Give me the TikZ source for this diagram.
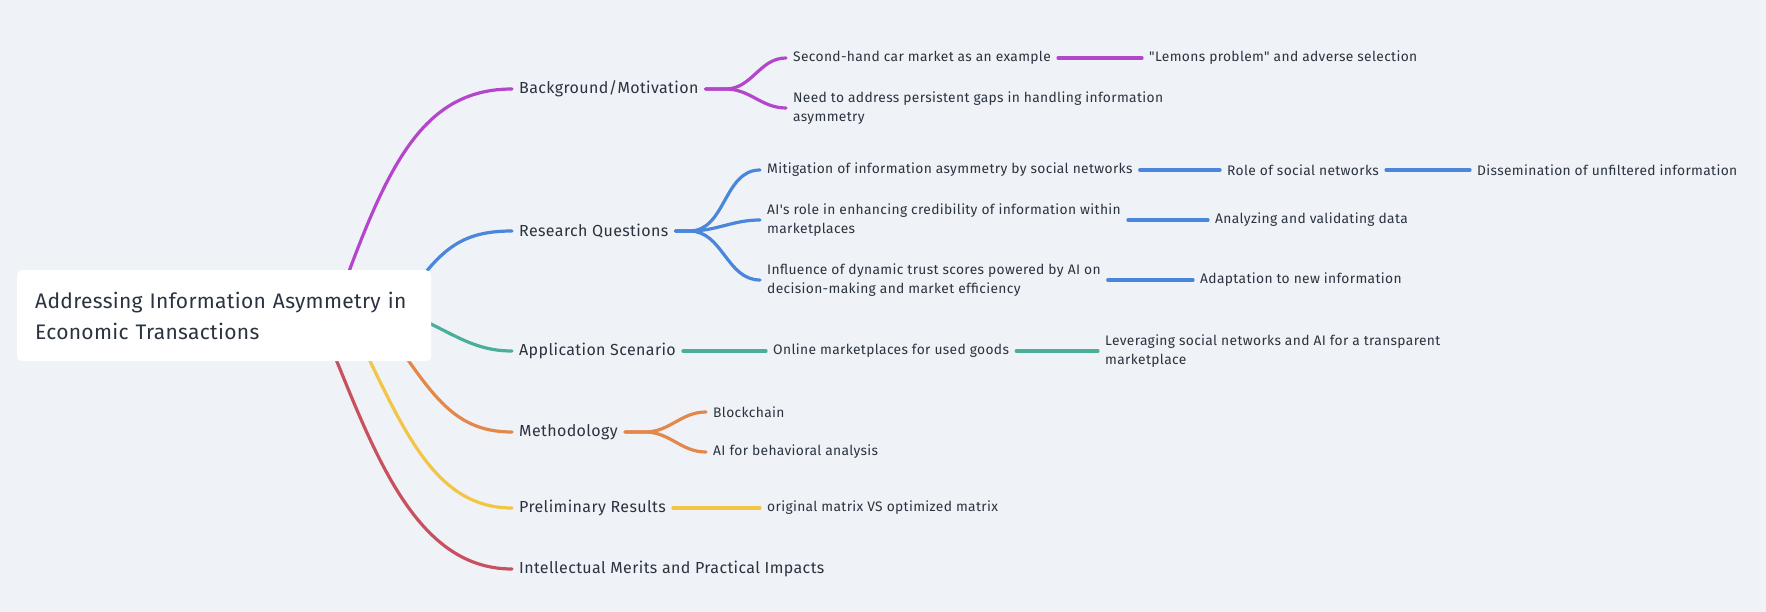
\documentclass[tikz,border=0pt]{standalone}
\usepackage{fontspec}
\setmainfont{Fira Sans}
\usetikzlibrary{calc}
\pgfdeclarelayer{bottom}
\pgfdeclarelayer{background}
\pgfsetlayers{bottom,background,main}

\definecolor{pagebg}{HTML}{EFF3F7}
\definecolor{ink}{HTML}{2B3340}
\definecolor{cpurple}{HTML}{B446CC}
\definecolor{cblue}{HTML}{4A86DA}
\definecolor{cteal}{HTML}{4AAE9B}
\definecolor{corange}{HTML}{E3884A}
\definecolor{cyellow}{HTML}{F2C545}
\definecolor{cred}{HTML}{C9505E}

\newfontfamily\rootfont[LetterSpace=1.5]{Fira Sans}
\newfontfamily\topicfont[LetterSpace=2.4]{Fira Sans}
\newfontfamily\leaffont[LetterSpace=2.5]{Fira Sans}

\tikzset{
  rootbox/.style={fill=white, rounded corners=5pt, anchor=north west,
    text width=378pt, inner xsep=18pt, inner ysep=0pt, minimum height=91pt,
    align=left, text=ink, font=\rootfont\fontsize{21}{31}\selectfont},
  topic/.style={anchor=west, inner xsep=7pt, inner ysep=2pt, text=ink,
    font=\topicfont\fontsize{16}{19}\selectfont},
  leaf/.style={anchor=west, inner xsep=7pt, inner ysep=2pt, text=ink,
    align=left, font=\leaffont\fontsize{13.8}{19.5}\selectfont},
  branch/.style={line width=3.2pt, line cap=round},
  link/.style={line width=3.2pt, line cap=round},
}

\begin{document}
\begin{tikzpicture}[x=1pt, y=-1pt]
\begin{pgfonlayer}{bottom}
  \fill[pagebg] (0,0) rectangle (1766,612);
\end{pgfonlayer}
\useasboundingbox (0,0) rectangle (1766,612);

% central topic
\node[rootbox] (root) at (17,270) {Addressing Information Asymmetry in\\Economic Transactions};

% main branches
\node[topic] (bg)   at (512,89)  {Background/Motivation};
\node[topic] (rq)   at (512,231) {Research Questions};
\node[topic] (app)  at (512,351) {Application Scenario};
\node[topic] (meth) at (512,432) {Methodology};
\node[topic] (pre)  at (512,508) {Preliminary Results};
\node[topic] (imp)  at (512,569) {Intellectual Merits and Practical Impacts};

% background / motivation
\node[leaf] (sec)  at (786,58)   {Second-hand car market as an example};
\node[leaf] (lem)  at (1142,58)  {"Lemons problem" and adverse selection};
\node[leaf] (need) at (786,108)  {Need to address persistent gaps in handling information\\asymmetry};

% research questions
\node[leaf] (mit)  at (760,170)  {Mitigation of information asymmetry by social networks};
\node[leaf] (role) at (1220,170) {Role of social networks};
\node[leaf] (dis)  at (1470,170) {Dissemination of unfiltered information};
\node[leaf] (ai)   at (760,220)  {AI's role in enhancing credibility of information within\\marketplaces};
\node[leaf] (ana)  at (1208,220) {Analyzing and validating data};
\node[leaf] (inf)  at (760,280)  {Influence of dynamic trust scores powered by AI on\\decision-making and market efficiency};
\node[leaf] (ada)  at (1193,280) {Adaptation to new information};

% application scenario
\node[leaf] (onl)  at (766,351)  {Online marketplaces for used goods};
\node[leaf] (lev)  at (1098,351) {Leveraging social networks and AI for a transparent\\marketplace};

% methodology
\node[leaf] (blk)  at (706,412)  {Blockchain};
\node[leaf] (aib)  at (706,452)  {AI for behavioral analysis};

% preliminary results
\node[leaf] (orig) at (760,508)  {original matrix VS optimized matrix};

\begin{pgfonlayer}{background}
  % curves from the central topic
  \draw[branch, cpurple] ($(root.north west)+(318,40)$) .. controls (385,170) and ($(bg.west)+(-92,0)$) .. (bg.west);
  \draw[branch, cblue]   ($(root.north west)+(388,30)$) .. controls (440,250) and ($(rq.west)+(-52,0)$) .. (rq.west);
  \draw[branch, cteal]   ($(root.north west)+(383,40)$) .. controls (450,330) and ($(app.west)+(-42,0)$) .. (app.west);
  \draw[branch, corange] ($(root.north west)+(363,50)$) .. controls (430,390) and ($(meth.west)+(-62,0)$) .. (meth.west);
  \draw[branch, cyellow] ($(root.north west)+(333,50)$) .. controls (400,420) and ($(pre.west)+(-82,0)$) .. (pre.west);
  \draw[branch, cred]    ($(root.north west)+(303,50)$) .. controls (370,440) and ($(imp.west)+(-102,0)$) .. (imp.west);
\end{pgfonlayer}

% background / motivation connectors
\draw[link, cpurple] (bg.east) -- ++(20,0) to[out=0, in=180] (sec.west);
\draw[link, cpurple] (bg.east) -- ++(20,0) to[out=0, in=180] (need.west);
\draw[link, cpurple] (sec.east) -- (lem.west);

% research question connectors
\draw[link, cblue] (rq.east) -- ++(14,0) to[out=0, in=180] (mit.west);
\draw[link, cblue] (rq.east) -- ++(14,0) to[out=0, in=180] (ai.west);
\draw[link, cblue] (rq.east) -- ++(14,0) to[out=0, in=180] (inf.west);
\draw[link, cblue] (mit.east) -- (role.west);
\draw[link, cblue] (role.east) -- (dis.west);
\draw[link, cblue] (ai.east) -- (ana.west);
\draw[link, cblue] (inf.east) -- (ada.west);

% application scenario connectors
\draw[link, cteal] (app.east) -- (onl.west);
\draw[link, cteal] (onl.east) -- (lev.west);

% methodology connectors
\draw[link, corange] (meth.east) -- ++(20,0) to[out=0, in=180] (blk.west);
\draw[link, corange] (meth.east) -- ++(20,0) to[out=0, in=180] (aib.west);

% preliminary results connector
\draw[link, cyellow] (pre.east) -- (orig.west);
\end{tikzpicture}
\end{document}
